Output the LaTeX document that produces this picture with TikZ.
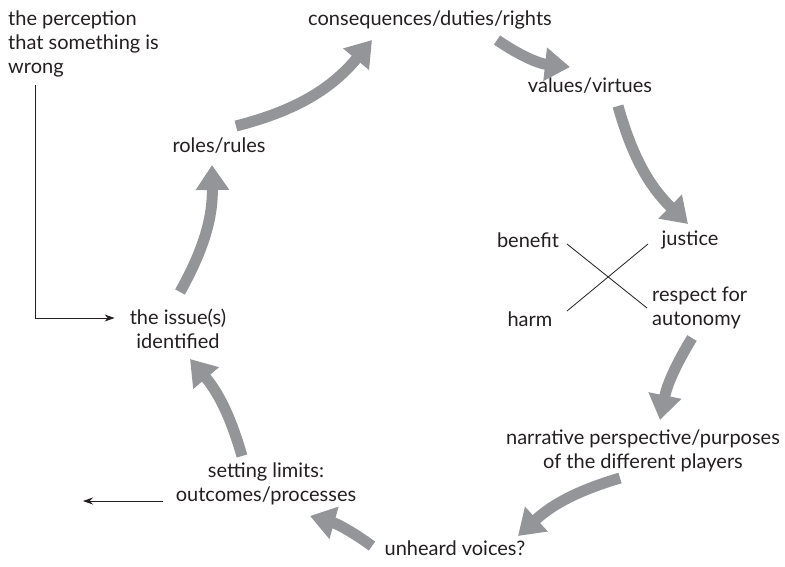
\documentclass[tikz,border=0pt]{standalone}
\usepackage{fontspec}
\setmainfont{Lato}
\usetikzlibrary{arrows.meta}
\definecolor{garr}{HTML}{939598}
\definecolor{ink}{HTML}{231F20}
\tikzset{
  lbl/.style={font=\fontsize{20}{24}\selectfont, text=ink, inner sep=0pt, align=center},
  garrow/.style={draw=garr, line width=11pt, -{Triangle[length=25pt,width=32pt]}},
  thinarrow/.style={draw=ink, line width=0.8pt, -{Stealth[length=10pt,width=7pt]}},
  thinline/.style={draw=ink, line width=0.8pt}
}
\begin{document}
\begin{tikzpicture}[x=1pt,y=-1pt]
\useasboundingbox (0,0) rectangle (785,566);
% nodes
\node[lbl, align=left, anchor=west] (perc) at (8,44) {the perception\\that something is\\wrong};
\node[lbl] (cons) at (430,20) {consequences/duties/rights};
\node[lbl] (values) at (590,86) {values/virtues};
\node[lbl] (roles) at (219,146) {roles/rules};
\node[lbl] (justice) at (690,240) {justice};
\node[lbl] (benefit) at (528,240) {benefit};
\node[lbl] (harm) at (530,319) {harm};
\node[lbl, align=left, anchor=west] (auton) at (652,308) {respect for\\autonomy};
\node[lbl] (issue) at (178,329) {the issue(s)\\identified};
\node[lbl] (narr) at (643,451) {narrative perspective/purposes\\of the different players};
\node[lbl] (limits) at (266,484) {setting limits:\\outcomes/processes};
\node[lbl] (unheard) at (455,548) {unheard voices?};
% gray cycle arrows
\draw[garrow] ([shift={(17,-20)}]roles.center) to[bend right=18] ([shift={(-58,20)}]cons.center);
\draw[garrow] ([shift={(67,20)}]cons.center) to[bend right=14] ([shift={(-20,-19)}]values.center);
\draw[garrow] ([shift={(28,20)}]values.center) to[bend right=15] ([shift={(-2,-16)}]justice.center);
\draw[garrow] ([shift={(40,30)}]auton.west) to[bend right=10] ([shift={(17,-31)}]narr.center);
\draw[garrow] ([shift={(-23,27)}]narr.center) to[bend right=13] ([shift={(63,-12)}]unheard.center);
\draw[garrow] ([shift={(-83,-2)}]unheard.center) to[bend right=10] ([shift={(44,32)}]limits.center);
\draw[garrow] ([shift={(-24,-28)}]limits.center) to[bend right=12] ([shift={(12,30)}]issue.center);
\draw[garrow] ([shift={(2,-37)}]issue.center) to[bend right=15] ([shift={(-7,19)}]roles.center);
% cross
\draw[thinline] ([shift={(39,4)}]benefit.center) -- ([shift={(-5,0)}]auton.west);
\draw[thinline] ([shift={(37,-8)}]harm.center) -- ([shift={(-42,4)}]justice.center);
% thin arrows
\draw[thinarrow] ([shift={(27,41)}]perc.west) |- ([shift={(-15,-11)}]issue.west);
\draw[thinarrow] ([shift={(-103,17)}]limits.center) -- ([shift={(-183,17)}]limits.center);
\end{tikzpicture}
\end{document}
